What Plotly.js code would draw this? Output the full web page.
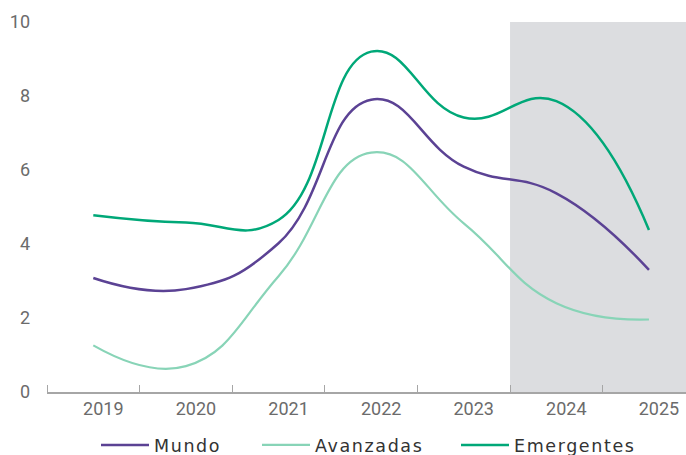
<!DOCTYPE html>
<html>
<head>
<meta charset="utf-8">
<script src="https://cdn.plot.ly/plotly-3.0.1.min.js"></script>
<style>
  html, body { margin: 0; padding: 0; background: #ffffff; }
  #chart { width: 686px; height: 455px; }
  svg text.legendtext, g.legend text, g.legend2 text, g.legend3 text { letter-spacing: 1.6px !important; }
</style>
</head>
<body>
<div id="chart"></div>
<script>
// Years (categories)
const years = [2019, 2020, 2021, 2022, 2023, 2024, 2025];
const yearLabels = ["2019", "2020", "2021", "2022", "2023", "2024", "2025"];

// Series values
const mundo      = [3.08, 2.78, 4.02, 7.90, 6.09, 5.37, 3.30];
const avanzadas  = [1.26, 0.70, 3.13, 6.47, 4.56, 2.40, 1.96];
const emergentes = [4.78, 4.58, 4.65, 9.20, 7.42, 7.86, 4.38];

// Forecast band (shaded)
const forecastStart = 2023.5;
const forecastEnd = 2025.5;

const yTicks = [0, 2, 4, 6, 8, 10];

const traces = [
  { name: "Mundo", x: years, y: mundo, type: "scatter", mode: "lines", legend: "legend",
    line: { color: "#5b4294", width: 2.5, shape: "spline", smoothing: 1.3 } },
  { name: "Avanzadas", x: years, y: avanzadas, type: "scatter", mode: "lines", legend: "legend2",
    line: { color: "#88d4b7", width: 2.2, shape: "spline", smoothing: 1.3 } },
  { name: "Emergentes", x: years, y: emergentes, type: "scatter", mode: "lines", legend: "legend3",
    line: { color: "#00a878", width: 2.5, shape: "spline", smoothing: 1.3 } }
];

function leg(xpx) {
  return {
    orientation: "h", xref: "container", yref: "container",
    x: xpx / 686, xanchor: "left", y: 1 - 445 / 455, yanchor: "middle",
    font: { family: "'DejaVu Sans', sans-serif", size: 17.5, color: "#333333" }, itemwidth: 48,
    bgcolor: "rgba(0,0,0,0)", borderwidth: 0
  };
}

const layout = {
  width: 686, height: 455,
  margin: { l: 47, r: 0, t: 22, b: 63 },
  paper_bgcolor: "#ffffff",
  plot_bgcolor: "rgba(0,0,0,0)",
  font: { family: "Roboto, 'Liberation Sans', sans-serif", color: "#6b6b6b", size: 18 },
  showlegend: true,
  legend: leg(96),
  legend2: leg(257),
  legend3: leg(456),
  xaxis: {
    range: [2018.5, 2025.4],
    tickmode: "array", tickvals: years, ticktext: yearLabels,
    ticks: "", ticklabelshift: 10, ticklabelstandoff: 0,
    showgrid: false, zeroline: false,
    showline: true, linecolor: "#a6a6a6", linewidth: 1.5,
    tickfont: { size: 18, color: "#6b6b6b" },
    minor: { ticks: "inside", tick0: 2018.5, dtick: 1, ticklen: 7, tickcolor: "#a6a6a6", tickwidth: 1, showgrid: false },
    fixedrange: true
  },
  yaxis: {
    range: [0, 10],
    tickmode: "array", tickvals: yTicks,
    ticks: "", ticklabelstandoff: 16,
    showgrid: false, zeroline: false, showline: false,
    tickfont: { size: 18, color: "#6b6b6b" },
    fixedrange: true
  },
  shapes: [
    { type: "rect", xref: "x", yref: "y", x0: forecastStart, x1: forecastEnd, y0: 0, y1: 10,
      fillcolor: "#dcdde0", line: { width: 0 }, layer: "below" }
  ]
};

Plotly.newPlot("chart", traces, layout, { displayModeBar: false, staticPlot: true }).then(function (gd) {
  // let the letter-spaced legend labels show in full
  gd.querySelectorAll(".infolayer [clip-path]").forEach(function (el) {
    var c = el.getAttribute("clip-path") || "";
    if (c.indexOf("legend") !== -1) el.removeAttribute("clip-path");
  });
});
</script>
</body>
</html>
